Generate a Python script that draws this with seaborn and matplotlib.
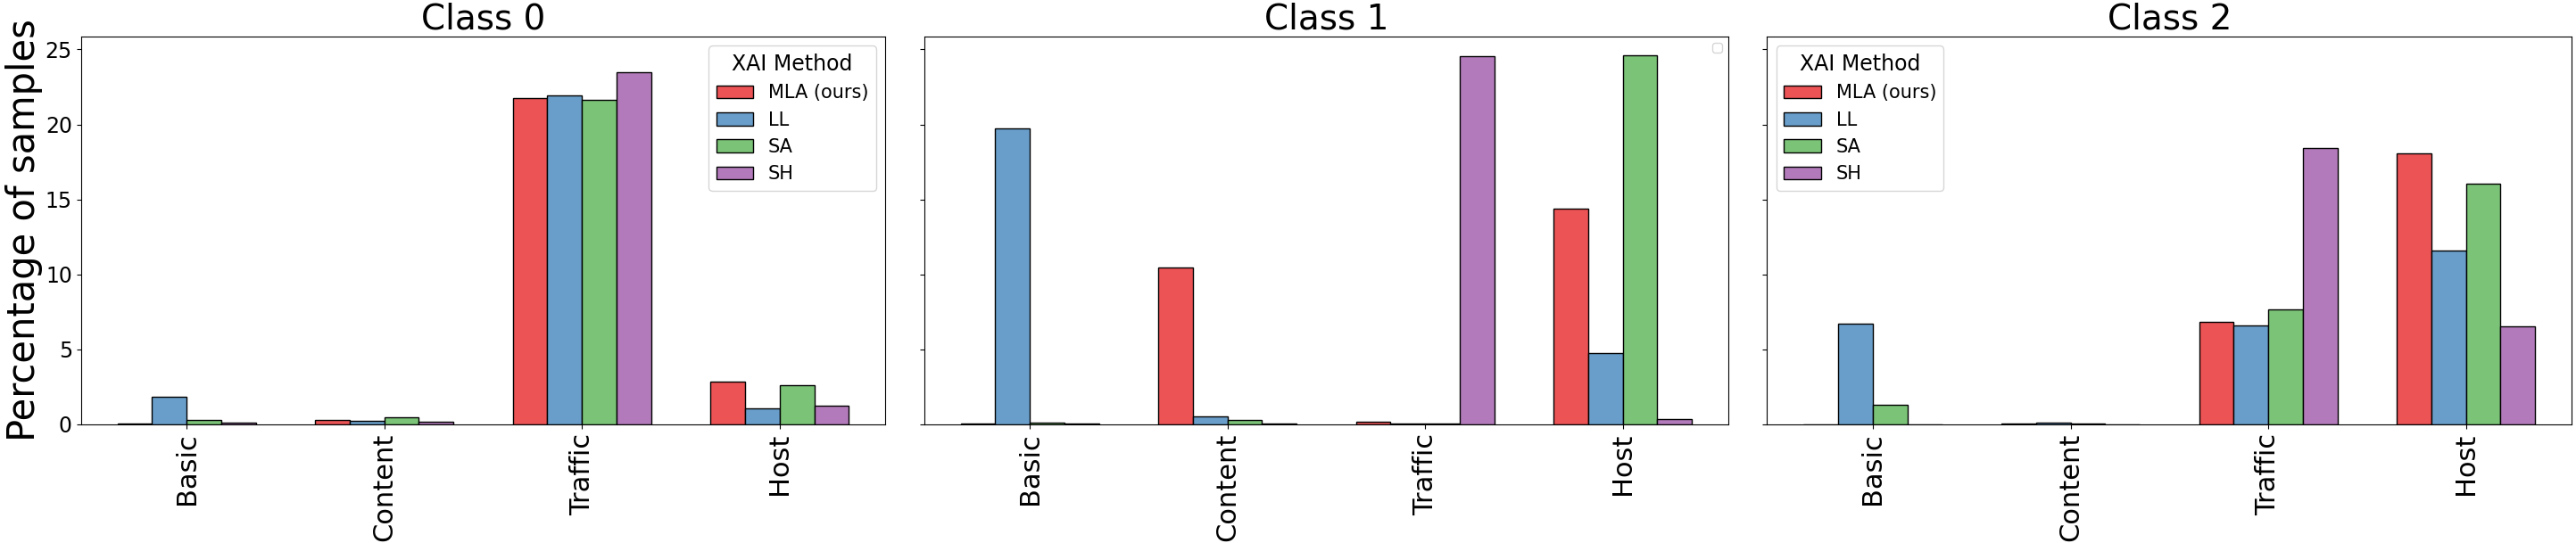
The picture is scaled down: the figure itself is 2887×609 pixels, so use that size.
import matplotlib
matplotlib.use("Agg")
import matplotlib.pyplot as plt
import seaborn as sns
import pandas as pd
import numpy as np

groups = ["Basic", "Content", "Traffic", "Host"]
methods = ["MLA (ours)", "LL", "SA", "SH"]
class_titles = ["Class 0", "Class 1", "Class 2"]

# values per class: one list per method, in the order of groups
class0_mla = [0.08, 0.28, 21.77, 2.84]
class0_ll = [1.82, 0.23, 21.91, 1.06]
class0_sa = [0.28, 0.46, 21.66, 2.61]
class0_sh = [0.12, 0.16, 23.50, 1.25]

class1_mla = [0.05, 10.49, 0.16, 14.37]
class1_ll = [19.76, 0.53, 0.05, 4.73]
class1_sa = [0.12, 0.28, 0.05, 24.63]
class1_sh = [0.05, 0.05, 24.56, 0.35]

class2_mla = [0.0, 0.04, 6.83, 18.10]
class2_ll = [6.69, 0.12, 6.57, 11.62]
class2_sa = [1.29, 0.04, 7.66, 16.03]
class2_sh = [0.0, 0.0, 18.45, 6.53]

class_data = [
    [class0_mla, class0_ll, class0_sa, class0_sh],
    [class1_mla, class1_ll, class1_sa, class1_sh],
    [class2_mla, class2_ll, class2_sa, class2_sh],
]

# Set1 colours blended with white at alpha 0.75
colors = ["#EB5355", "#699ECA", "#7AC377", "#B27ABA"]
legend_locs = ["upper right", None, "upper left"]

fig, axes = plt.subplots(1, 3, figsize=(28.87, 6.09), dpi=100, sharey=True)
fig.subplots_adjust(left=0.0314, right=0.9983, bottom=0.2184, top=0.9327, wspace=0.048)

for i, ax in enumerate(axes):
    rows = []
    for m, vals in zip(methods, class_data[i]):
        for g, v in zip(groups, vals):
            rows.append({"Group": g, "Method": m, "Pct": v})
    df = pd.DataFrame(rows)
    sns.barplot(data=df, x="Group", y="Pct", hue="Method", order=groups,
                hue_order=methods, palette=colors, saturation=1, width=0.7,
                edgecolor="black", linewidth=1.0, ax=ax)
    ax.set_xlim(-0.535, 3.535)
    ax.set_title(class_titles[i], fontsize=28)
    ax.set_xlabel("")
    ax.set_ylabel("")
    ax.tick_params(axis="x", labelsize=22, labelrotation=90)
    ax.tick_params(axis="y", labelsize=17)
    if legend_locs[i] is None:
        ax.legend(handles=[], loc="upper right")
    else:
        ax.legend(title="XAI Method", loc=legend_locs[i], fontsize=15,
                  title_fontsize=17)

axes[0].set_ylabel("Percentage of samples", fontsize=30, labelpad=2)
axes[0].set_yticks([0, 5, 10, 15, 20, 25])

fig.savefig("out.png", dpi=100)
